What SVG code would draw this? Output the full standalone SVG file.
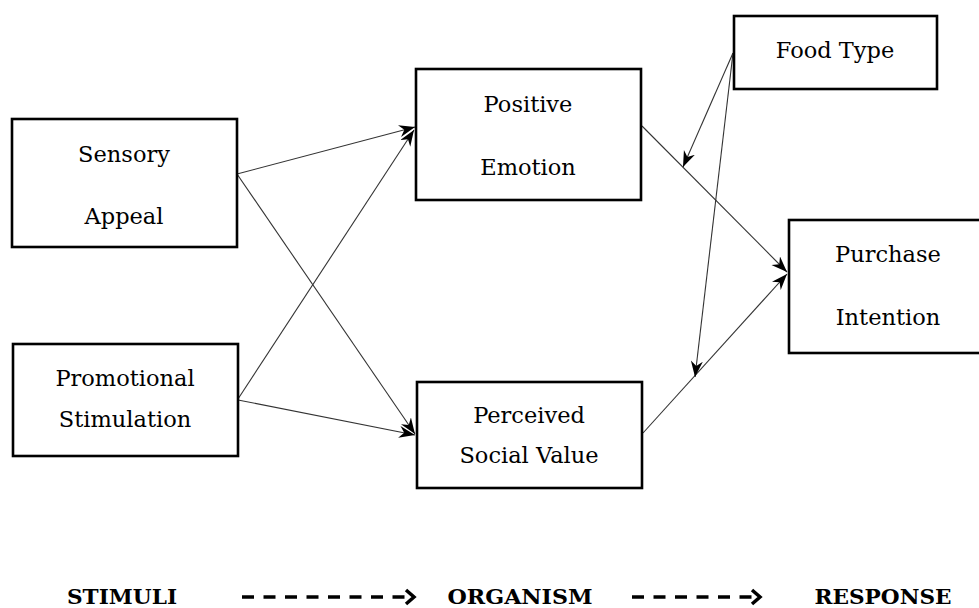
<svg xmlns="http://www.w3.org/2000/svg" width="979" height="608" viewBox="0 0 979 608">
<style>
.box{fill:#fff;stroke:#000;stroke-width:2.6}
.t{font-family:"DejaVu Serif","Liberation Serif","Noto Serif",serif;font-size:22.5px;fill:#000;text-anchor:middle}
.b{font-family:"DejaVu Serif","Liberation Serif","Noto Serif",serif;font-size:21px;font-weight:bold;fill:#000;text-anchor:middle}
.c{stroke:#333;stroke-width:1.1;fill:none;marker-end:url(#ah)}
.d{stroke:#000;stroke-width:3.5;fill:none;stroke-dasharray:12 9.5}
.chev{stroke:#000;stroke-width:3.5;fill:none}
</style>
<defs>
<marker id="ah" markerWidth="18" markerHeight="14" refX="16" refY="6" orient="auto" markerUnits="userSpaceOnUse">
<path d="M0,0 L16,6 L0,12 L5,6 z" fill="#000"/>
</marker>
</defs>
<rect width="979" height="608" fill="#fff"/>
<g id="connectors">
<line class="c" x1="237" y1="174" x2="415" y2="127"/>
<line class="c" x1="237" y1="174" x2="415" y2="434"/>
<line class="c" x1="238" y1="399" x2="414" y2="130"/>
<line class="c" x1="238" y1="400" x2="415" y2="435"/>
<line class="c" x1="642" y1="126" x2="787" y2="272"/>
<line class="c" x1="643" y1="433" x2="787" y2="274"/>
<line class="c" x1="733" y1="53" x2="683" y2="167"/>
<line class="c" x1="733" y1="53" x2="695" y2="377"/>
</g>
<g id="sensory-appeal">
<rect class="box" x="12" y="119" width="225" height="128"/>
<text class="t" x="124" y="162">Sensory</text>
<text class="t" x="124" y="224">Appeal</text>
</g>
<g id="promotional-stimulation">
<rect class="box" x="13" y="344" width="225" height="112"/>
<text class="t" x="125" y="386">Promotional</text>
<text class="t" x="125" y="427">Stimulation</text>
</g>
<g id="positive-emotion">
<rect class="box" x="416" y="69" width="225" height="131"/>
<text class="t" x="528" y="112">Positive</text>
<text class="t" x="528" y="175">Emotion</text>
</g>
<g id="perceived-social-value">
<rect class="box" x="417" y="382" width="225" height="106"/>
<text class="t" x="529" y="423">Perceived</text>
<text class="t" x="529" y="463">Social Value</text>
</g>
<g id="food-type">
<rect class="box" x="734" y="16" width="203" height="73"/>
<text class="t" x="835" y="58">Food Type</text>
</g>
<g id="purchase-intention">
<rect class="box" x="789" y="220" width="200" height="133"/>
<text class="t" x="888" y="262">Purchase</text>
<text class="t" x="888" y="325">Intention</text>
</g>
<g id="sor-legend">
<text class="b" x="122" y="604" textLength="110" lengthAdjust="spacingAndGlyphs">STIMULI</text>
<line class="d" x1="242" y1="597" x2="412" y2="597"/>
<polyline class="chev" points="406,590 414,597 406,604"/>
<text class="b" x="520" y="604" textLength="145" lengthAdjust="spacingAndGlyphs">ORGANISM</text>
<line class="d" x1="632" y1="597" x2="760" y2="597"/>
<polyline class="chev" points="752,590 760,597 752,604"/>
<text class="b" x="883" y="604" textLength="137" lengthAdjust="spacingAndGlyphs">RESPONSE</text>
</g>
</svg>
